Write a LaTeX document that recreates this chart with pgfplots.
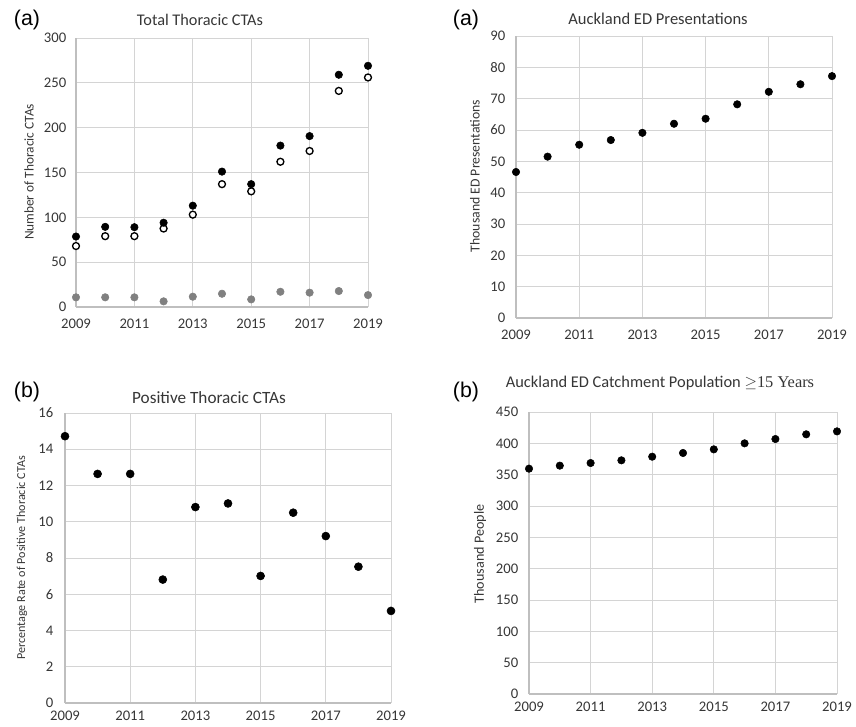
\documentclass[border=0pt]{standalone}
\usepackage{pgfplots}
\pgfplotsset{compat=1.18}
\usepackage{fontspec}
\setmainfont{Carlito}
\newfontfamily\arialf{Liberation Sans}
\newfontfamily\timesf{Liberation Serif}
\definecolor{gridc}{HTML}{D4D4D4}
\definecolor{axc}{HTML}{BFBFBF}
\definecolor{txt}{HTML}{363636}
\definecolor{dotgray}{HTML}{808080}
\pgfplotsset{myax/.style={
  scale only axis, anchor=south west,
  xmin=2009, xmax=2019, xtick={2009,2011,...,2019}, ymin=0,
  grid=major, major grid style={gridc, line width=0.7pt},
  axis lines*=left, axis line style={axc, line width=0.9pt},
  major tick length=0pt,
  /pgf/number format/1000 sep={}, /pgf/number format/assume math mode=true,
  tick label style={font=\fontsize{11}{13}\selectfont, text=txt},
  clip=false,
}}
\tikzset{dotb/.style={only marks, mark=*, mark size=2.8pt, black},
         doto/.style={only marks, mark=*, mark size=2.6pt, mark options={fill=white, draw=black, line width=1pt}},
         dotg/.style={only marks, mark=*, mark size=2.8pt, dotgray, mark options={draw=dotgray, fill=dotgray}}}
\begin{document}
\begin{tikzpicture}
\path[use as bounding box] (0,0) rectangle (642pt,-545.25pt);
% Panel 1
\begin{axis}[myax, at={(57pt,-230.25pt)}, width=219pt, height=201.75pt,
  ymax=300, ytick={0,50,...,300},
  xticklabel style={yshift=-5.3pt}, yticklabel style={xshift=-3.8pt}]
\addplot[dotg] coordinates {(2009,10.8) (2010,10.8) (2011,10.8) (2012,6.3) (2013,11.5) (2014,14.8) (2015,8.5) (2016,17) (2017,16) (2018,17.8) (2019,13.3)};
\addplot[doto] coordinates {(2009,68) (2010,79) (2011,79) (2012,87.5) (2013,103) (2014,137) (2015,129) (2016,162) (2017,174) (2018,241) (2019,256)};
\addplot[dotb] coordinates {(2009,78.6) (2010,89.4) (2011,89) (2012,94) (2013,113) (2014,151) (2015,137) (2016,180) (2017,190.6) (2018,259) (2019,269)};
\end{axis}
% Panel 2
\begin{axis}[myax, at={(387pt,-238.5pt)}, width=237pt, height=211.5pt,
  ymax=90, ytick={0,10,...,90},
  xticklabel style={yshift=-5.3pt}, yticklabel style={xshift=-4.5pt}]
\addplot[dotb] coordinates {(2009,46.6) (2010,51.5) (2011,55.3) (2012,56.8) (2013,59.1) (2014,62) (2015,63.6) (2016,68.2) (2017,72.2) (2018,74.6) (2019,77.2)};
\end{axis}
% Panel 3
\begin{axis}[myax, at={(48.75pt,-527.25pt)}, width=244.5pt, height=217.5pt,
  ymax=16, ytick={0,2,...,16},
  xticklabel style={yshift=-2.7pt}, yticklabel style={xshift=-5.3pt}]
\addplot[dotb, mark size=3pt] coordinates {(2009,14.72) (2010,12.64) (2011,12.64) (2012,6.81) (2013,10.81) (2014,11.01) (2015,7.01) (2016,10.5) (2017,9.21) (2018,7.52) (2019,5.08)};
\end{axis}
% Panel 4
\begin{axis}[myax, at={(396.75pt,-520.5pt)}, width=231pt, height=211.5pt,
  ymax=450, ytick={0,50,...,450},
  xticklabel style={yshift=-2.7pt}, yticklabel style={xshift=-4.5pt}]
\addplot[dotb] coordinates {(2009,359.6) (2010,364.4) (2011,368.6) (2012,372.9) (2013,378.7) (2014,384.6) (2015,390.4) (2016,400) (2017,406.9) (2018,414.4) (2019,419.1)};
\end{axis}
% Titles
\node[text=txt, font=\fontsize{12.2}{14}\selectfont] at (150pt,-15pt) {Total Thoracic CTAs};
\node[text=txt, font=\fontsize{12.4}{14}\selectfont] at (493.5pt,-14.25pt) {Auckland ED Presentations};
\node[text=txt, font=\fontsize{12.9}{14}\selectfont] at (156.75pt,-298.5pt) {Positive Thoracic CTAs};
\node[text=txt, font=\fontsize{12.3}{14}\selectfont] at (495pt,-287.25pt) {Auckland ED Catchment Population {\timesf$\geq$15 Years}};
% Panel labels
\node[font=\arialf\fontsize{16}{18}\selectfont] at (20.25pt,-15pt) {(a)};
\node[font=\arialf\fontsize{16}{18}\selectfont] at (349.5pt,-15pt) {(a)};
\node[font=\arialf\fontsize{16}{18}\selectfont] at (20.25pt,-294pt) {(b)};
\node[font=\arialf\fontsize{16}{18}\selectfont] at (349.5pt,-294pt) {(b)};
% Y labels
\node[rotate=90, text=txt, font=\fontsize{10}{12}\selectfont] at (21.75pt,-129pt) {Number of Thoracic CTAs};
\node[rotate=90, text=txt, font=\fontsize{10.3}{12}\selectfont] at (356.25pt,-132pt) {Thousand ED Presentations};
\node[rotate=90, text=txt, font=\fontsize{9.1}{11}\selectfont] at (16.5pt,-418.5pt) {Percentage Rate of Positive Thoracic CTAs};
\node[rotate=90, text=txt, font=\fontsize{10.6}{12}\selectfont] at (360pt,-415.5pt) {Thousand People};
\end{tikzpicture}
\end{document}
